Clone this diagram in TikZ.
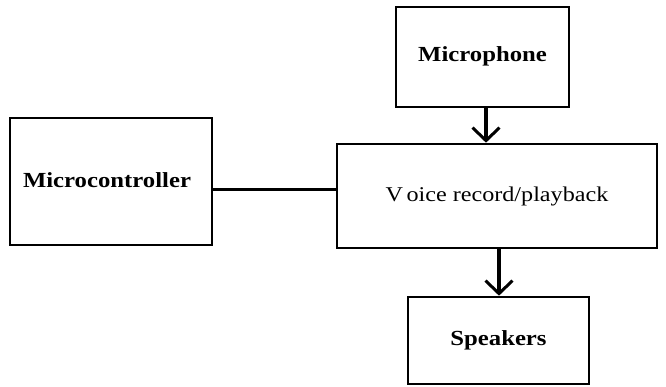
\documentclass[tikz,border=0pt]{standalone}
\usepackage{fontspec}
\setmainfont{Liberation Serif}
\newfontfamily\wideserif[FakeStretch=1.15]{Liberation Serif}
\usetikzlibrary{arrows.meta}
\begin{document}
\begin{tikzpicture}[x=1pt,y=1pt,
  blockbox/.style={draw=black, line width=2.6pt, fill=white, inner sep=0pt, align=center,
    font=\wideserif\fontsize{21.5}{24}\selectfont\bfseries},
  arr/.style={line width=3.5pt, -{Straight Barb[length=13pt,width=27pt,line width=3pt]}},
  link/.style={line width=3pt}]
\useasboundingbox (0,0) rectangle (666,387);
\node[blockbox, minimum width=173pt, minimum height=100pt] (mic) at (482.5,330) {\raisebox{5pt}{Microphone}};
\node[blockbox, minimum width=202pt, minimum height=127pt] (mcu) at (111,205.5) {\hspace*{-8pt}\raisebox{2pt}{Microcontroller}};
\node[blockbox, minimum width=320pt, minimum height=104pt, font=\wideserif\fontsize{21}{24}\selectfont] (voice) at (497,191) {V\,oice record/playback};
\node[blockbox, minimum width=181pt, minimum height=87pt] (spk) at (498.5,46.5) {\raisebox{-3pt}{Speakers}};
\coordinate (a1) at (486,0);
\coordinate (a2) at (499,0);
\draw[arr] (mic.south -| a1) -- (voice.north -| a1);
\draw[arr] (voice.south -| a2) -- (spk.north -| a2);
\draw[link] (mcu.east |- 0,197) -- (voice.west |- 0,197);
\end{tikzpicture}
\end{document}
